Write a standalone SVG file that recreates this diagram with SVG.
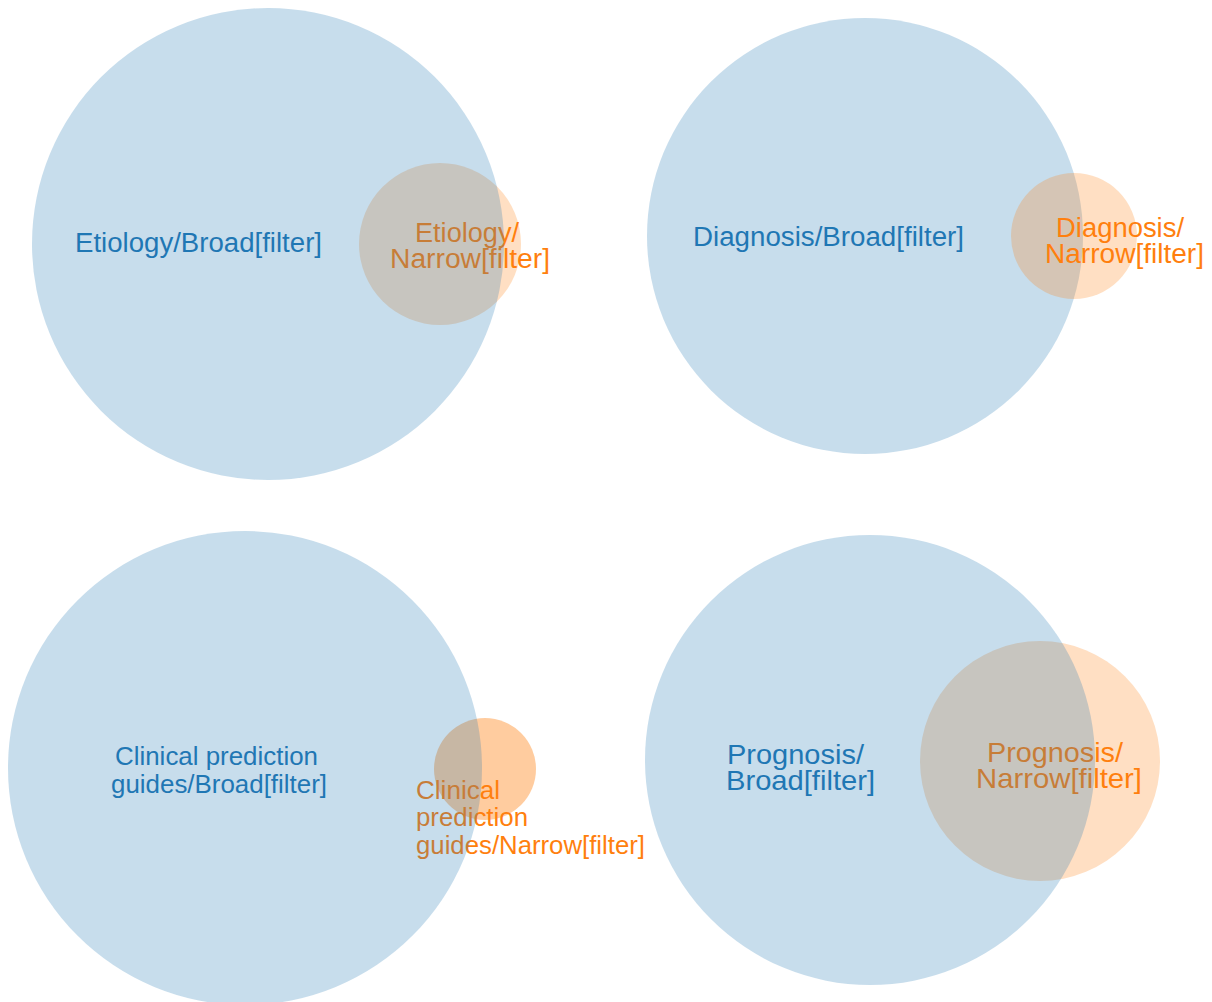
<svg xmlns="http://www.w3.org/2000/svg" width="1212" height="1002" viewBox="0 0 1212 1002">
<style>
  text { font-family: "Liberation Sans", Arial, sans-serif; font-size: 27px; }
  .small { font-size: 26px; }
  .big { font-size: 28px; }
  .broad { fill: #1f77b4; fill-opacity: 0.25; }
  .narrow { fill: #ff7f0e; fill-opacity: 0.25; }
  .narrow-strong { fill: #ff7f0e; fill-opacity: 0.4; }
  .tb { fill: #1f77b4; text-anchor: middle; }
  .tn { fill: #ff7f0e; text-anchor: middle; }
  .tns { fill: #ff7f0e; text-anchor: start; }
</style>
<rect width="1212" height="1002" fill="#ffffff"/>

<!-- Etiology -->
<g id="etiology-narrow">
  <circle class="narrow" cx="440" cy="244" r="81"/>
  <text class="tn" x="467" y="242" textLength="104" lengthAdjust="spacingAndGlyphs">Etiology/</text>
  <text class="tn" x="470" y="268" textLength="160" lengthAdjust="spacingAndGlyphs">Narrow[filter]</text>
</g>
<g id="etiology-broad">
  <circle class="broad" cx="268" cy="244" r="236"/>
  <text class="tb" x="198.5" y="252" textLength="247" lengthAdjust="spacingAndGlyphs">Etiology/Broad[filter]</text>
</g>

<!-- Diagnosis -->
<g id="diagnosis-broad">
  <circle class="broad" cx="865" cy="236" r="218"/>
  <text class="tb" x="828.5" y="246" textLength="271" lengthAdjust="spacingAndGlyphs">Diagnosis/Broad[filter]</text>
</g>
<g id="diagnosis-narrow">
  <circle class="narrow" cx="1074" cy="236" r="63"/>
  <text class="tn" x="1120" y="237" textLength="128" lengthAdjust="spacingAndGlyphs">Diagnosis/</text>
  <text class="tn" x="1124.5" y="263" textLength="159" lengthAdjust="spacingAndGlyphs">Narrow[filter]</text>
</g>

<!-- Clinical prediction guides -->
<g id="clinical-narrow">
  <circle class="narrow-strong" cx="485" cy="769" r="51"/>
  <text class="tns small" x="416" y="799" textLength="84" lengthAdjust="spacingAndGlyphs">Clinical</text>
  <text class="tns small" x="416" y="826" textLength="112" lengthAdjust="spacingAndGlyphs">prediction</text>
  <text class="tns small" x="416" y="854" textLength="229" lengthAdjust="spacingAndGlyphs">guides/Narrow[filter]</text>
</g>
<g id="clinical-broad">
  <circle class="broad" cx="245" cy="768" r="237"/>
  <text class="tb small" x="216.5" y="765" textLength="203" lengthAdjust="spacingAndGlyphs">Clinical prediction</text>
  <text class="tb small" x="219" y="793" textLength="216" lengthAdjust="spacingAndGlyphs">guides/Broad[filter]</text>
</g>

<!-- Prognosis -->
<g id="prognosis-narrow">
  <circle class="narrow" cx="1040" cy="761" r="120"/>
  <text class="tn big" x="1055" y="762" textLength="136" lengthAdjust="spacingAndGlyphs">Prognosis/</text>
  <text class="tn big" x="1059" y="788" textLength="166" lengthAdjust="spacingAndGlyphs">Narrow[filter]</text>
</g>
<g id="prognosis-broad">
  <circle class="broad" cx="870" cy="760" r="225"/>
  <text class="tb big" x="795.5" y="764" textLength="137" lengthAdjust="spacingAndGlyphs">Prognosis/</text>
  <text class="tb big" x="800.5" y="790" textLength="149" lengthAdjust="spacingAndGlyphs">Broad[filter]</text>
</g>

<g id="connectors"></g>
</svg>
